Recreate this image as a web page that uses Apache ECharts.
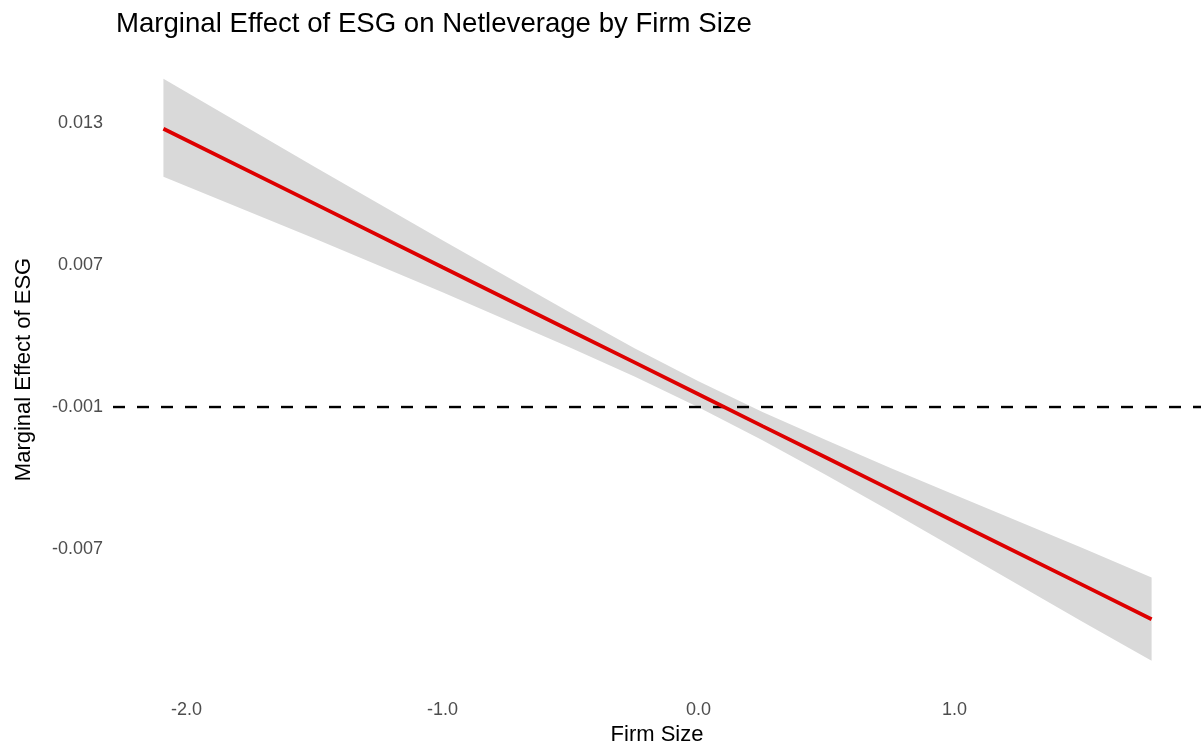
<!DOCTYPE html>
<html>
<head>
<meta charset="utf-8">
<script src="https://cdn.jsdelivr.net/npm/echarts@6/dist/echarts.min.js"></script>
<style>
html,body{margin:0;padding:0;background:#fff;}
#chart{width:1201px;height:745px;}
</style>
</head>
<body>
<div id="chart"></div>
<script>
// ---- data ----
const firmSize   = [-2.09, -1.5, -1.0, -0.5, -0.25, 0.0, 0.25, 0.5, 0.75, 1.0, 1.5, 1.77];
const marginal   = [0.01322, 0.00953, 0.00639, 0.00326, 0.00170, 0.00013, -0.00144, -0.00300, -0.00457, -0.00614, -0.00927, -0.01096];
const ciUpper    = [0.01569, 0.01135, 0.00772, 0.00415, 0.00240, 0.00077, -0.00074, -0.00214, -0.00351, -0.00483, -0.00745, -0.00891];
const ciLower    = [0.01085, 0.00781, 0.00516, 0.00242, 0.00100, -0.00051, -0.00214, -0.00386, -0.00564, -0.00745, -0.01109, -0.01301];
const yTickValues = [-0.0075, -0.0005, 0.0065, 0.0135];
const yTickLabels = ['-0.007', '-0.001', '0.007', '0.013'];
const xTickLabels = ['-2.0', '-1.0', '0.0', '1.0'];
const refLine = -0.0005;
const xRange = [-2.287, 1.963];
const yRange = [-0.0145, 0.0172];

const FONT = '"Liberation Sans", Arial, Helvetica, sans-serif';

const chart = echarts.init(document.getElementById('chart'), null, {renderer: 'canvas'});

const bandData = firmSize.map((x, i) => [x, ciLower[i], ciUpper[i]]);
const lineData = firmSize.map((x, i) => [x, marginal[i]]);
const refData = xRange.map(x => [x, refLine]);

function yLabel(v) {
  for (let i = 0; i < yTickValues.length; i++) {
    if (Math.abs(v - yTickValues[i]) < 1e-7) return yTickLabels[i];
  }
  return '';
}
function xLabel(v) {
  const idx = Math.round(v) + 2;
  if (Math.abs(v - Math.round(v)) < 1e-7 && idx >= 0 && idx < xTickLabels.length) return xTickLabels[idx];
  return '';
}

const option = {
  animation: false,
  backgroundColor: '#ffffff',
  title: {
    text: 'Marginal Effect of ESG on Netleverage by Firm Size',
    left: 111, top: 5,
    textStyle: {fontFamily: FONT, fontSize: 27.6, fontWeight: 'normal', color: '#000000'}
  },
  grid: {left: 113, right: 0, top: 48, bottom: 54, containLabel: false, outerBoundsMode: 'none'},
  xAxis: {
    type: 'value',
    min: xRange[0], max: xRange[1],
    name: 'Firm Size',
    nameLocation: 'middle',
    nameGap: 31,
    nameTextStyle: {fontFamily: FONT, fontSize: 22, color: '#000000', verticalAlign: 'top'},
    axisLine: {show: false},
    axisTick: {show: false},
    splitLine: {show: false},
    axisLabel: {
      fontFamily: FONT, fontSize: 18, color: '#4d4d4d', margin: 10,
      showMinLabel: false, showMaxLabel: false,
      formatter: xLabel
    }
  },
  yAxis: {
    type: 'value',
    min: yRange[0], max: yRange[1], interval: 0.007,
    name: 'Marginal Effect of ESG',
    nameLocation: 'middle',
    nameRotate: 90,
    nameGap: 78,
    nameTextStyle: {fontFamily: FONT, fontSize: 22, color: '#000000'},
    axisLine: {show: false},
    axisTick: {show: false},
    splitLine: {show: false},
    axisLabel: {
      fontFamily: FONT, fontSize: 18, color: '#4d4d4d', margin: 10,
      verticalAlign: 'middle', padding: [4, 0, 0, 0],
      showMinLabel: false, showMaxLabel: false,
      formatter: yLabel
    }
  },
  series: [
    {
      type: 'custom',
      name: 'CI',
      data: bandData,
      encode: {x: 0, y: [1, 2]},
      silent: true,
      z: 1,
      renderItem: function (params, api) {
        if (params.dataIndex !== 0) return null;
        const pts = [];
        for (let i = 0; i < firmSize.length; i++) pts.push(api.coord([firmSize[i], ciUpper[i]]));
        for (let i = firmSize.length - 1; i >= 0; i--) pts.push(api.coord([firmSize[i], ciLower[i]]));
        return {type: 'polygon', shape: {points: pts}, style: {fill: '#d9d9d9', stroke: null}};
      }
    },
    {
      type: 'line',
      name: 'Reference',
      data: refData,
      showSymbol: false,
      symbol: 'none',
      silent: true,
      z: 2,
      lineStyle: {color: '#000000', width: 2.4, type: [12, 12]}
    },
    {
      type: 'line',
      name: 'Marginal effect',
      data: lineData,
      showSymbol: false,
      symbol: 'none',
      z: 3,
      lineStyle: {color: '#dd0000', width: 3.8}
    }
  ]
};
chart.setOption(option);
</script>
</body>
</html>
